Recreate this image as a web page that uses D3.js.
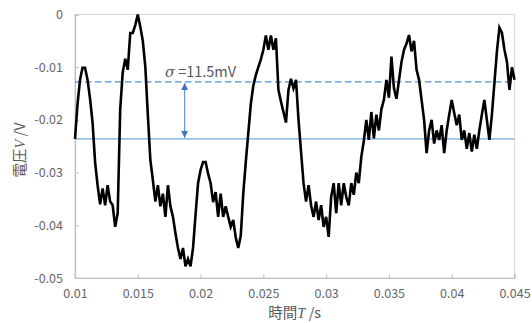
<!DOCTYPE html>
<html>
<head>
<meta charset="utf-8">
<script src="https://cdn.jsdelivr.net/npm/d3@7"></script>
<style>
  body { margin: 0; background: #fff; }
  svg { display: block; font-family: "Noto Sans CJK JP", "Noto Sans", sans-serif; }
</style>
</head>
<body>
<svg id="chart" width="532" height="323"></svg>
<script>
// sampled voltage (mV), one value every 0.2 ms starting at t = 0.01 s
const t0 = 0.01;
const dt = 0.0002;
const voltage = [
  -23.6, -17, -12.4, -10.1, -10.1, -12.4, -16, -20.5, -28, -32.4,
  -36, -33, -36.2, -32.4, -35.5, -36.2, -40.3, -37.7, -18, -11,
  -8.4, -10.5, -3.5, -3.5, -2, 0, -2.3, -5, -9.9, -19,
  -27.6, -31.4, -35.5, -32.4, -36.4, -34, -38.4, -32.4, -36.4, -38.4,
  -41.5, -44.3, -46.4, -44.3, -47.8, -46.4, -47.8, -44.3, -38, -32,
  -29.5, -28, -28, -30.2, -32, -35.6, -33.7, -38.4, -34, -38.4,
  -36.4, -38.4, -40.3, -39, -42.3, -44.3, -42, -34, -28, -22.5,
  -17, -13.5, -11.5, -10, -8.5, -6.7, -4, -6.7, -4, -6.7,
  -4.5, -14.3, -16.5, -18.5, -20.5, -14.3, -12.2, -14, -12.4, -20,
  -26, -32, -35.5, -32.4, -36.2, -38.4, -35.5, -39, -36.2, -40.3,
  -38.4, -42.2, -34.6, -32, -37.7, -32, -36.2, -32, -34.6, -36.2,
  -32, -34.2, -30, -32, -27, -24, -20, -23.8, -18.5, -23.5,
  -19, -22, -18, -16.2, -12.4, -15.8, -8, -14, -16, -12.5,
  -9, -6.7, -5.5, -3.9, -7, -5, -10.5, -12.4, -16.2, -20,
  -26.3, -22, -20, -24.5, -22, -23.8, -21, -26.3, -22, -19,
  -16.2, -18.7, -21, -19, -23.8, -22, -25.5, -22.5, -26, -22.8,
  -25.5, -22, -19, -16.2, -20, -23.8, -19, -13, -7, -2.5,
  -3.5, -6.7, -9, -14.3, -10, -12.4
];

const meanLevel = -0.0236;   // mean (solid line)
const sigmaLevel = -0.0128;  // mean + sigma (dashed line)
const sigmaLabel = "11.5mV";

const xTicks = [0.01, 0.015, 0.02, 0.025, 0.03, 0.035, 0.04, 0.045];
const xTickLabels = ["0.01", "0.015", "0.02", "0.025", "0.03", "0.035", "0.04", "0.045"];
const yTicks = [0, -0.01, -0.02, -0.03, -0.04, -0.05];
const yTickLabels = ["0", "-0.01", "-0.02", "-0.03", "-0.04", "-0.05"];

const points = voltage.map((v, i) => ({ t: t0 + i * dt, v: v / 1000 }));

const svg = d3.select("#chart");
const plotLeft = 75, plotRight = 514.5, plotTop = 14.5, plotBottom = 278;

const x = d3.scaleLinear().domain([0.01, 0.045]).range([plotLeft, plotRight]);
const y = d3.scaleLinear().domain([-0.05, 0]).range([plotBottom, plotTop]);

// plot frame
svg.append("rect")
  .attr("x", plotLeft).attr("y", plotTop)
  .attr("width", plotRight - plotLeft).attr("height", plotBottom - plotTop)
  .attr("fill", "none").attr("stroke", "#d9d9d9").attr("stroke-width", 1.2);

// axes (ticks point inward)
const xAxis = svg.append("g")
  .attr("transform", "translate(0," + plotBottom + ")")
  .call(d3.axisBottom(x).tickValues(xTicks)
    .tickFormat((d, i) => xTickLabels[i]).tickSize(-4).tickPadding(11));

const yAxis = svg.append("g")
  .attr("transform", "translate(" + plotLeft + ",0)")
  .call(d3.axisLeft(y).tickValues(yTicks)
    .tickFormat((d, i) => yTickLabels[i]).tickSize(-4).tickPadding(12));

[xAxis, yAxis].forEach(g => {
  g.select(".domain").attr("stroke", "#bfbfbf").attr("stroke-width", 1.2);
  g.selectAll(".tick line").attr("stroke", "#bfbfbf");
  g.selectAll(".tick text")
    .attr("fill", "#666")
    .style("font-size", "12.5px")
    .style("font-family", "'Noto Sans CJK JP', sans-serif");
});

// mean and sigma lines
svg.append("line")
  .attr("x1", plotLeft).attr("x2", plotRight)
  .attr("y1", y(meanLevel)).attr("y2", y(meanLevel))
  .attr("stroke", "#6fa8dc").attr("stroke-width", 1.2);

svg.append("line")
  .attr("x1", plotLeft).attr("x2", plotRight)
  .attr("y1", y(sigmaLevel)).attr("y2", y(sigmaLevel))
  .attr("stroke", "#4a90d9").attr("stroke-width", 1.2)
  .attr("stroke-dasharray", "6.5,3.5");

// waveform
const line = d3.line().x(d => x(d.t)).y(d => y(d.v));
svg.append("path")
  .datum(points)
  .attr("fill", "none")
  .attr("stroke", "#000")
  .attr("stroke-width", 2.6)
  .attr("stroke-linejoin", "miter")
  .attr("d", line);

// double-headed arrow for sigma
const defs = svg.append("defs");
["start", "end"].forEach(k => {
  defs.append("marker")
    .attr("id", "arrow-" + k)
    .attr("viewBox", "0 0 10 10")
    .attr("refX", 10).attr("refY", 5)
    .attr("markerWidth", 7).attr("markerHeight", 7)
    .attr("markerUnits", "userSpaceOnUse")
    .attr("orient", k === "start" ? "auto-start-reverse" : "auto")
    .append("path")
    .attr("d", "M0,0 L10,5 L0,10 Z")
    .attr("fill", "#4472c4");
});

const arrowX = x(0.01873);
svg.append("line")
  .attr("x1", arrowX).attr("x2", arrowX)
  .attr("y1", y(sigmaLevel) + 1).attr("y2", y(meanLevel) - 1)
  .attr("stroke", "#6a9bd8").attr("stroke-width", 1.3)
  .attr("marker-start", "url(#arrow-start)")
  .attr("marker-end", "url(#arrow-end)");

const sigmaText = svg.append("text")
  .attr("x", 165).attr("y", 77)
  .attr("fill", "#595959")
  .style("font-size", "14.5px");
sigmaText.append("tspan").attr("font-style", "italic")
  .style("font-family", "'DejaVu Serif', serif").text("σ");
sigmaText.append("tspan").text(" =" + sigmaLabel);

// axis titles
const xTitle = svg.append("text")
  .attr("x", (plotLeft + plotRight) / 2).attr("y", 318)
  .attr("text-anchor", "middle")
  .attr("fill", "#595959")
  .style("font-size", "14.5px");
xTitle.append("tspan").text("時間");
xTitle.append("tspan").attr("font-style", "italic")
  .style("font-family", "'Liberation Serif', serif").text("T");
xTitle.append("tspan").text(" /s");

const yTitle = svg.append("text")
  .attr("transform", "translate(25,150) rotate(-90)")
  .attr("text-anchor", "middle")
  .attr("fill", "#595959")
  .style("font-size", "14.5px");
yTitle.append("tspan").text("電圧");
yTitle.append("tspan").attr("font-style", "italic")
  .style("font-family", "'Liberation Serif', serif").text("V");
yTitle.append("tspan").text(" /V");
</script>
</body>
</html>
